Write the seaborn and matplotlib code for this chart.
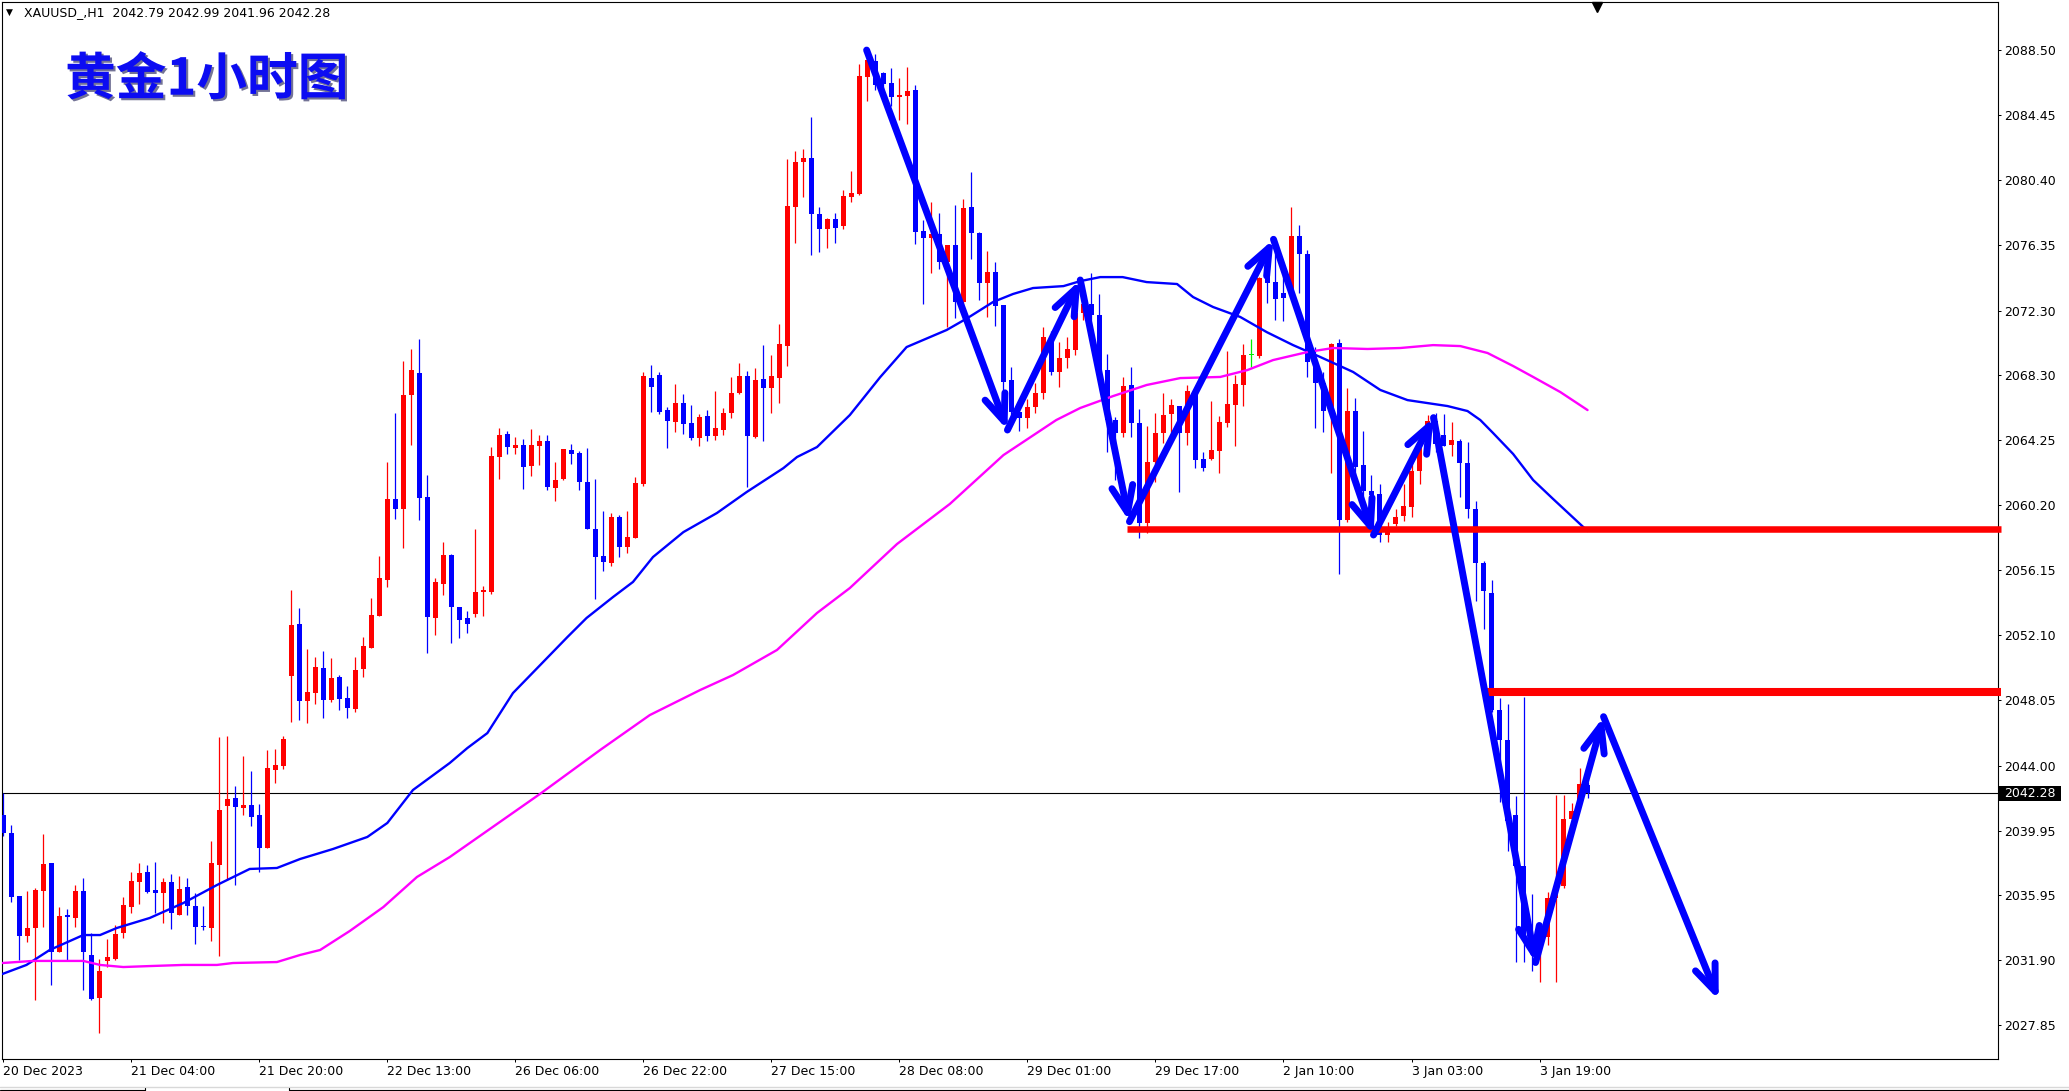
import numpy as np
import pandas as pd
import matplotlib
matplotlib.use("Agg")
import matplotlib.pyplot as plt
import matplotlib.patheffects as pe
import matplotlib.transforms as mtransforms
from matplotlib.lines import Line2D
from matplotlib.patches import Rectangle
import seaborn as sns

# ---------------- data (XAUUSD H1) ----------------
opens = [2040.93, 2039.83, 2035.89, 2033.42, 2033.9, 2036.2, 2037.94, 2032.39, 2034.7, 2034.5,
         2036.2, 2032.22, 2029.57, 2031.87, 2031.97, 2033.57, 2035.23, 2036.78, 2037.38, 2036.26,
         2036.1, 2036.76, 2034.71, 2036.45, 2035.27, 2034.0, 2033.92, 2037.84, 2041.51, 2041.99,
         2041.38, 2041.55, 2040.93, 2038.9, 2043.73, 2043.98, 2049.59, 2052.8, 2048.04, 2048.54,
         2050.07, 2048.1, 2049.51, 2048.2, 2047.54, 2050.03, 2051.33, 2053.33, 2055.56, 2060.58,
         2059.98, 2067.05, 2068.42, 2060.7, 2053.2, 2055.3, 2057.09, 2053.86, 2053.17, 2053.44,
         2054.79, 2054.79, 2063.2, 2064.62, 2063.77, 2063.95, 2062.65, 2063.89, 2064.18, 2061.28,
         2061.84, 2063.62, 2063.43, 2061.63, 2058.71, 2057.03, 2056.62, 2059.45, 2057.61, 2058.17,
         2061.53, 2068.1, 2068.29, 2066.11, 2065.38, 2066.54, 2065.3, 2064.39, 2065.74, 2064.51,
         2064.89, 2065.94, 2067.19, 2068.22, 2064.45, 2068.04, 2067.5, 2068.12, 2070.11, 2078.76,
         2081.53, 2081.78, 2078.32, 2077.39, 2077.99, 2077.57, 2079.38, 2079.56, 2086.84, 2087.81,
         2087.09, 2086.47, 2085.6, 2085.64, 2086.01, 2077.26, 2076.83, 2077.08, 2075.33, 2076.39,
         2072.85, 2078.76, 2077.14, 2074.03, 2074.71, 2072.66, 2067.98, 2066.0, 2065.6, 2066.3,
         2067.2, 2070.67, 2068.5, 2069.32, 2069.84, 2072.12, 2072.7, 2072.02, 2068.6, 2065.49,
         2064.7, 2067.67, 2065.28, 2059.06, 2062.88, 2064.68, 2065.86, 2066.36, 2064.68, 2067.05,
         2063.07, 2063.07, 2063.56, 2065.3, 2066.42, 2067.67, 2069.53, 2069.47, 2074.57, 2074.07,
         2073.39, 2073.47, 2076.93, 2075.82, 2069.22, 2067.77, 2066.0, 2070.29, 2059.26, 2066.04,
         2062.72, 2061.05, 2060.86, 2058.33, 2059.0, 2059.53, 2060.06, 2062.32, 2064.05, 2065.4,
         2064.58, 2063.91, 2064.18, 2062.8, 2059.93, 2056.61, 2054.75, 2047.44, 2045.58, 2040.9,
         2037.74, 2033.35, 2032.9, 2033.35, 2035.74, 2036.54, 2040.66, 2041.86, 2042.79]
highs = [2042.3, 2040.31, 2035.9, 2036.2, 2036.37, 2039.75, 2037.94, 2035.19, 2035.1, 2036.58,
         2037.0, 2033.57, 2032.0, 2033.22, 2034.09, 2035.85, 2037.38, 2037.92, 2037.84, 2038.0,
         2037.0, 2037.28, 2037.16, 2036.99, 2036.06, 2035.27, 2039.31, 2045.8, 2045.86, 2042.73,
         2044.62, 2043.66, 2041.61, 2044.97, 2045.03, 2045.84, 2054.92, 2053.8, 2051.25, 2050.75,
         2051.13, 2050.69, 2049.64, 2048.95, 2050.75, 2052.0, 2054.42, 2057.04, 2062.88, 2065.93,
         2069.16, 2069.91, 2070.53, 2062.07, 2055.67, 2057.91, 2057.15, 2053.86, 2053.61, 2058.71,
         2055.16, 2063.83, 2064.99, 2064.8, 2064.43, 2064.31, 2064.93, 2064.55, 2064.55, 2062.88,
         2063.68, 2064.0, 2063.56, 2063.75, 2061.82, 2059.83, 2059.7, 2059.58, 2059.83, 2061.94,
         2068.47, 2068.91, 2068.47, 2066.32, 2067.73, 2067.11, 2066.42, 2065.86, 2066.13, 2067.29,
         2066.23, 2068.16, 2069.03, 2068.53, 2068.72, 2070.15, 2069.53, 2071.46, 2081.72, 2082.22,
         2082.34, 2084.33, 2078.76, 2078.05, 2078.38, 2079.81, 2080.97, 2087.63, 2088.6, 2088.25,
         2087.15, 2087.38, 2086.78, 2087.44, 2086.32, 2077.93, 2079.07, 2078.38, 2076.4, 2078.88,
         2079.25, 2080.91, 2077.2, 2076.02, 2075.33, 2072.66, 2068.8, 2066.6, 2066.8, 2067.8,
         2071.29, 2071.0, 2070.36, 2070.67, 2072.5, 2072.8, 2074.61, 2073.31, 2069.57, 2065.7,
         2068.16, 2068.79, 2066.17, 2065.12, 2065.93, 2067.17, 2066.8, 2066.36, 2067.67, 2067.05,
         2063.5, 2066.67, 2065.74, 2069.78, 2068.29, 2070.2, 2070.53, 2074.4, 2075.44, 2076.0,
         2074.5, 2078.74, 2077.62, 2076.06, 2070.05, 2068.5, 2070.3, 2070.56, 2067.5, 2066.84,
         2064.79, 2062.05, 2061.52, 2059.13, 2059.98, 2061.52, 2063.2, 2064.71, 2065.8, 2065.9,
         2065.85, 2065.38, 2064.3, 2064.13, 2060.46, 2056.74, 2055.54, 2048.18, 2047.84, 2042.12,
         2048.24, 2036.01, 2034.0, 2036.14, 2042.18, 2042.18, 2041.65, 2043.85, 2042.99]
lows = [2039.6, 2035.54, 2031.9, 2033.05, 2029.42, 2033.98, 2030.36, 2032.39, 2031.9, 2033.98,
        2030.05, 2029.42, 2027.35, 2031.5, 2031.9, 2033.26, 2034.81, 2035.39, 2036.1, 2034.81,
        2034.2, 2033.86, 2034.7, 2034.71, 2032.9, 2033.8, 2033.11, 2032.16, 2036.89, 2036.57,
        2040.93, 2040.24, 2037.36, 2038.9, 2042.94, 2043.79, 2046.73, 2046.84, 2046.67, 2047.85,
        2046.98, 2047.98, 2047.48, 2046.98, 2047.35, 2049.53, 2051.3, 2053.3, 2055.13, 2059.36,
        2057.53, 2063.94, 2059.27, 2051.0, 2052.12, 2054.6, 2051.64, 2051.95, 2052.26, 2053.26,
        2053.32, 2054.67, 2061.84, 2063.39, 2063.39, 2061.22, 2062.03, 2062.71, 2061.15, 2060.47,
        2061.78, 2062.77, 2061.15, 2058.73, 2054.38, 2056.12, 2056.43, 2056.99, 2057.24, 2058.17,
        2061.4, 2066.01, 2065.88, 2063.77, 2064.76, 2064.64, 2064.26, 2063.89, 2064.2, 2064.26,
        2064.57, 2065.63, 2067.13, 2061.34, 2064.39, 2064.2, 2065.94, 2066.57, 2068.87, 2076.52,
        2079.38, 2075.77, 2075.96, 2076.21, 2076.52, 2077.39, 2079.07, 2079.5, 2085.35, 2086.0,
        2085.8, 2085.04, 2084.15, 2083.9, 2076.45, 2072.72, 2074.65, 2074.9, 2071.29, 2071.85,
        2072.54, 2075.52, 2072.97, 2071.91, 2071.36, 2066.5, 2065.3, 2064.8, 2065.0, 2065.9,
        2066.8, 2068.3, 2067.56, 2068.7, 2069.53, 2071.71, 2071.71, 2067.8, 2063.5, 2061.76,
        2064.45, 2064.41, 2058.13, 2058.44, 2061.61, 2064.04, 2064.68, 2061.03, 2063.94, 2062.5,
        2062.32, 2063.0, 2062.2, 2065.06, 2063.87, 2066.36, 2068.81, 2069.35, 2072.77, 2071.71,
        2071.67, 2073.37, 2073.37, 2068.16, 2064.97, 2064.76, 2062.2, 2055.94, 2059.13, 2061.2,
        2060.46, 2058.33, 2057.93, 2057.93, 2058.9, 2059.19, 2059.45, 2061.52, 2063.8, 2063.5,
        2063.9, 2063.25, 2060.73, 2059.4, 2054.22, 2052.49, 2047.31, 2041.72, 2038.67, 2031.76,
        2031.76, 2031.23, 2030.56, 2032.82, 2030.56, 2036.36, 2040.6, 2041.8, 2041.96]
closes = [2039.79, 2035.85, 2033.42, 2033.9, 2036.26, 2037.88, 2032.39, 2034.65, 2034.6, 2036.2,
          2032.39, 2029.49, 2031.23, 2032.12, 2033.55, 2035.33, 2036.82, 2037.32, 2036.14, 2036.06,
          2036.76, 2034.85, 2036.33, 2035.27, 2033.98, 2033.95, 2037.94, 2041.24, 2041.92, 2041.45,
          2041.55, 2040.82, 2038.9, 2043.85, 2044.04, 2045.65, 2052.74, 2048.04, 2048.58, 2050.13,
          2048.1, 2049.45, 2048.16, 2047.6, 2049.95, 2051.44, 2053.37, 2055.67, 2060.58, 2059.98,
          2067.05, 2068.6, 2060.64, 2053.24, 2055.42, 2057.1, 2053.84, 2053.05, 2052.82, 2054.79,
          2054.92, 2063.27, 2064.55, 2063.83, 2063.95, 2062.58, 2063.95, 2064.18, 2061.34, 2061.76,
          2063.68, 2063.39, 2061.65, 2058.73, 2056.99, 2056.68, 2059.45, 2057.61, 2058.21, 2061.57,
          2068.22, 2067.56, 2066.01, 2065.45, 2066.54, 2065.26, 2064.39, 2065.67, 2064.51, 2065.01,
          2065.92, 2067.17, 2068.22, 2064.51, 2067.97, 2067.5, 2068.22, 2070.23, 2078.82, 2081.53,
          2081.78, 2078.32, 2077.39, 2077.99, 2077.45, 2079.44, 2079.63, 2086.88, 2087.88, 2086.32,
          2086.38, 2085.6, 2085.7, 2085.95, 2077.2, 2076.83, 2077.08, 2075.33, 2076.39, 2072.85,
          2078.69, 2077.14, 2074.03, 2074.71, 2072.6, 2067.87, 2066.0, 2065.6, 2066.3, 2067.2,
          2070.67, 2068.5, 2069.32, 2069.9, 2072.12, 2072.7, 2072.0, 2068.6, 2065.49, 2064.66,
          2067.6, 2065.28, 2059.06, 2062.88, 2064.68, 2065.8, 2066.42, 2064.68, 2067.29, 2063.0,
          2062.5, 2063.63, 2065.37, 2066.49, 2067.73, 2069.53, 2069.53, 2074.32, 2074.03, 2073.04,
          2073.1, 2076.93, 2075.84, 2069.12, 2067.77, 2066.04, 2070.24, 2059.26, 2066.04, 2062.59,
          2061.1, 2060.81, 2058.33, 2058.6, 2059.45, 2060.12, 2062.32, 2064.05, 2065.4, 2064.0,
          2063.9, 2064.23, 2062.8, 2059.93, 2056.61, 2054.83, 2047.44, 2045.58, 2040.53, 2037.74,
          2033.22, 2032.9, 2033.4, 2035.74, 2036.54, 2040.66, 2041.19, 2042.87, 2042.28]

# moving averages (bar index, price)
ma_blue_x = [-0.1, 2.9, 5.8, 10, 12.1, 14.2, 18.3, 22.5, 26.7, 30.8, 34.2, 37.1, 41.2, 45.5, 48,
             51.2, 55.8, 58, 60.5, 63.7, 67.1, 70.5, 72.9, 76.2, 78.7, 81.2, 85, 89.2, 92.9, 97.5,
             99.2, 101.7, 105.8, 107.3, 109.6, 112.9, 117.9, 120.5, 123.7, 126.2, 128.7, 132.5,
             134.6, 137.1, 139.9, 142.9, 146.7, 148.7, 151.2, 154.6, 157.9, 161.2, 164.6, 168.7,
             172.1, 175.5, 180.5, 183, 184.6, 186.2, 188.7, 191.2, 193.7, 198]
ma_blue_v = [2031.04, 2031.6, 2032.53, 2033.46, 2033.46, 2033.9, 2034.52, 2035.45, 2036.57, 2037.57,
             2037.63, 2038.19, 2038.81, 2039.56, 2040.43, 2042.48, 2044.16, 2045.09, 2046.02, 2048.51,
             2050.25, 2051.99, 2053.18, 2054.48, 2055.42, 2056.97, 2058.52, 2059.71, 2061.01, 2062.5,
             2063.19, 2063.81, 2065.8, 2066.73, 2068.16, 2070.03, 2071.09, 2071.83, 2072.83, 2073.33,
             2073.7, 2073.82, 2074.13, 2074.38, 2074.38, 2074.07, 2073.95, 2073.14, 2072.52, 2071.9,
             2070.96, 2070.15, 2069.41, 2068.48, 2067.36, 2066.73, 2066.36, 2066.05, 2065.49, 2064.68,
             2063.38, 2061.76, 2060.58, 2058.59]
ma_mag_x = [-0.1, 3.7, 10, 12.1, 15, 18.3, 22.5, 26.7, 28.7, 34.2, 37.1, 39.6, 43.3, 47.5, 51.7,
            55.8, 67.2, 74.6, 80.8, 87.1, 91.2, 96.7, 101.7, 105.8, 111.7, 118.3, 125, 131.6,
            134.6, 138.7, 142.9, 147.1, 152.1, 155.5, 158.7, 163, 166.2, 170.5, 174.6, 178.7,
            182.1, 185.5, 188.7, 191.2, 194.6, 198]
ma_mag_v = [2031.72, 2031.85, 2031.85, 2031.6, 2031.47, 2031.53, 2031.6, 2031.6, 2031.72, 2031.78,
            2032.22, 2032.53, 2033.71, 2035.2, 2037.07, 2038.31, 2042.28, 2044.97, 2047.14, 2048.7,
            2049.63, 2051.19, 2053.49, 2055.04, 2057.78, 2060.27, 2063.31, 2065.49, 2066.24, 2066.98,
            2067.67, 2068.1, 2068.17, 2068.6, 2069.22, 2069.72, 2069.97, 2069.91, 2069.97, 2070.15,
            2070.09, 2069.66, 2068.85, 2068.17, 2067.23, 2066.11]

# hand-drawn arrow path (bar index, price)
path_x = [107.9, 125.5, 134.6, 140.75, 158.75, 171.25, 178.75, 191.5, 200.0, 214.4]
path_p = [2088.5, 2064.87, 2074.2, 2059.17, 2076.73, 2058.34, 2065.64, 2031.75, 2047.04, 2029.42]

# horizontal levels: (start bar, price)
level_start = [140.4, 185.3]
level_price = [2058.69, 2048.55]
last_price = 2042.28

xtick_idx = [0, 16, 32, 48, 64, 80, 96, 112, 128, 144, 160, 176, 192]
xtick_labels = ["20 Dec 2023", "21 Dec 04:00", "21 Dec 20:00", "22 Dec 13:00", "26 Dec 06:00",
                "26 Dec 22:00", "27 Dec 15:00", "28 Dec 08:00", "29 Dec 01:00", "29 Dec 17:00",
                "2 Jan 10:00", "3 Jan 03:00", "3 Jan 19:00"]
ytick_vals = [2088.50, 2084.45, 2080.40, 2076.35, 2072.30, 2068.30, 2064.25, 2060.20, 2056.15,
              2052.10, 2048.05, 2044.00, 2039.95, 2035.95, 2031.90, 2027.85]

title_text = "黄金1小时图"
header_text = "XAUUSD_,H1  2042.79 2042.99 2041.96 2042.28"

# ---------------- style ----------------
sns.set_theme(style="white")
plt.rcParams['font.family'] = ['DejaVu Sans', 'Noto Sans CJK SC']
plt.rcParams['axes.linewidth'] = 0.8

W, H = 2069, 1091
fig = plt.figure(figsize=(W / 100, H / 100), dpi=100, facecolor='white')
ax = fig.add_axes([2 / W, (H - 1059) / H, 1996 / W, 1057 / H])
ax.set_facecolor('white')

df = pd.DataFrame({'i': np.arange(len(opens)), 'o': opens, 'h': highs, 'l': lows, 'c': closes})
cols = np.where(df.c > df.o, '#ff0000', np.where(df.c < df.o, '#0000ff', '#00ee00'))
bottoms = np.minimum(df.o, df.c)
heights = np.maximum(np.abs(df.c - df.o), 0.065)

# last price line
ax.axhline(last_price, color='black', lw=0.8, zorder=1)

ax.vlines(df.i, df.l, df.h, colors=cols, lw=0.9, zorder=2)
ax.bar(df.i, heights, bottom=bottoms, width=0.625, color=cols, linewidth=0, zorder=3)

sns.lineplot(x=ma_blue_x, y=ma_blue_v, ax=ax, color='#0000ff', lw=1.7, sort=False,
             estimator=None, zorder=4)
sns.lineplot(x=ma_mag_x, y=ma_mag_v, ax=ax, color='#ff00ff', lw=1.7, sort=False,
             estimator=None, zorder=4)

x_end = 249.7
for xs, pr, lw in zip(level_start, level_price, [4.7, 5.8]):
    ax.plot([xs, x_end], [pr, pr], color='#ff0000', lw=lw, solid_capstyle='butt',
            clip_on=False, zorder=5)

for k in range(len(path_x) - 1):
    ax.annotate('', xy=(path_x[k + 1], path_p[k + 1]), xytext=(path_x[k], path_p[k]),
                arrowprops=dict(arrowstyle='->,head_length=0.95,head_width=0.38',
                                color='#0000ff', lw=5, shrinkA=0, shrinkB=0,
                                mutation_scale=20), zorder=6)

ax.set_xlim(-0.16, 249.3)
ax.set_ylim(2025.75, 2091.49)
ax.set_xlabel('')
ax.set_ylabel('')

ax.set_xticks(xtick_idx)
ax.set_xticklabels(xtick_labels, ha='left')
ax.yaxis.tick_right()
ax.set_yticks(ytick_vals)
ax.set_yticklabels([f"{v:.2f}" for v in ytick_vals])
ax.tick_params(axis='both', direction='out', length=2.4, width=0.72, color='black',
               labelcolor='black', labelsize=9, pad=2)
ax.tick_params(axis='y', left=False, right=True, labelleft=False, labelright=True)
ax.tick_params(axis='x', bottom=True, top=False)
for s in ax.spines.values():
    s.set_visible(True)
    s.set_color('black')
    s.set_linewidth(0.8)

# current price tag
tr = mtransforms.blended_transform_factory(ax.transAxes, ax.transData)
ax.add_patch(Rectangle((1.0005, last_price - 0.47), 0.031, 0.94, transform=tr,
                       facecolor='black', edgecolor='none', clip_on=False, zorder=7))
ax.text(1.016, last_price, f"{last_price:.2f}", transform=tr, color='white', fontsize=9,
        ha='center', va='center', zorder=8, clip_on=False)

# title
ax.text(0.0316, 0.926, title_text, transform=ax.transAxes, fontsize=36.5, fontweight='bold',
        color='#0c0cf2', family=['Noto Sans CJK SC', 'DejaVu Sans'], ha='left', va='center',
        zorder=9,
        path_effects=[pe.SimplePatchShadow(offset=(1.5, -1.5), shadow_rgbFace='#000040', alpha=0.55),
                      pe.Normal()])

# header
fig.text(24 / W, 1 - 13 / H, header_text, fontsize=9, color='black', ha='left', va='center')
fig.text(6 / W, 1 - 12.5 / H, '▼', fontsize=6.5, color='black', ha='left', va='center')

# chart shift marker
ax.plot([0.799], [0.9955], marker='v', ms=7, color='black', transform=ax.transAxes,
        clip_on=False, zorder=9)

# bottom window decoration
fig.add_artist(Line2D([0, 1], [1 - 1086.5 / H] * 2, transform=fig.transFigure,
                      color='#d8d8d8', lw=1))
fig.add_artist(Line2D([0, 145 / W], [1 - 1089.5 / H] * 2, transform=fig.transFigure,
                      color='black', lw=0.8))
fig.add_artist(Line2D([289 / W, 1], [1 - 1089.5 / H] * 2, transform=fig.transFigure,
                      color='black', lw=0.8))
for xx in (145, 289):
    fig.add_artist(Line2D([xx / W] * 2, [1 - 1088 / H, 1 - 1091 / H], transform=fig.transFigure,
                          color='black', lw=0.8))

fig.savefig('out.png', dpi=100, facecolor='white')
